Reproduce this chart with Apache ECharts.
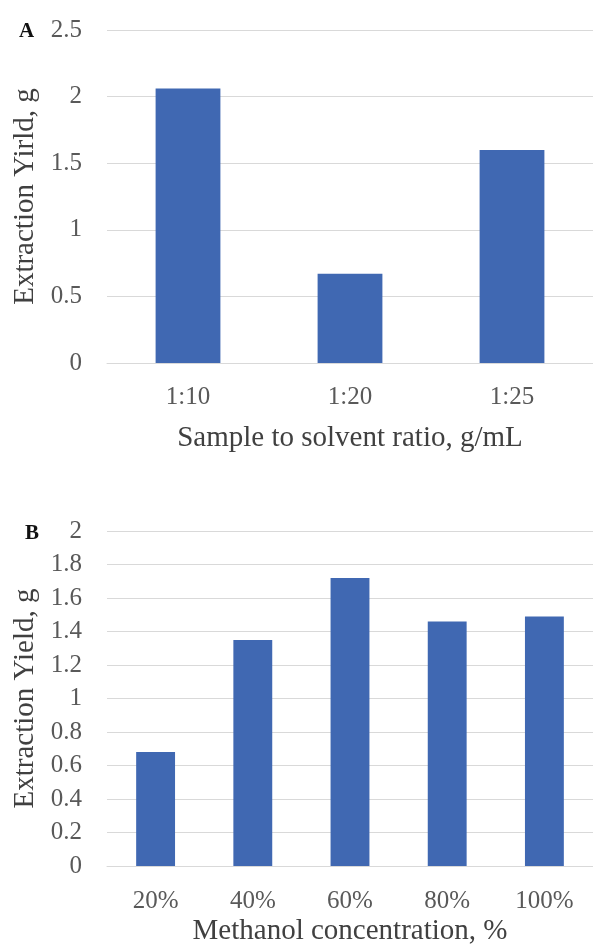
<!DOCTYPE html>
<html>
<head>
<meta charset="utf-8">
<script src="https://cdn.jsdelivr.net/npm/echarts@6/dist/echarts.min.js"></script>
<style>
  html, body { margin: 0; padding: 0; background: #fff; }
  #chart { width: 593px; height: 952px; }
</style>
</head>
<body>
<div id="chart"></div>
<script>
// panel A: sample to solvent ratio
var ratioCats = ['1:10', '1:20', '1:25'];
var ratioYield = [2.06, 0.67, 1.60];

// panel B: methanol concentration
var methCats = ['20%', '40%', '60%', '80%', '100%'];
var methYield = [0.68, 1.35, 1.72, 1.46, 1.49];

var serif = "'Liberation Serif', 'Times New Roman', serif";
var barColor = '#4068b2';
var gridColor = '#d9d9d9';
var tickColor = '#595959';
var nameColor = '#404040';

function xAxisOf(idx, cats, name, margin, gap) {
  return {
    type: 'category',
    gridIndex: idx,
    data: cats,
    name: name,
    nameLocation: 'middle',
    nameGap: gap,
    nameTextStyle: { fontFamily: serif, fontSize: 29, color: nameColor },
    axisTick: { show: false },
    axisLine: { lineStyle: { color: gridColor, width: 1 } },
    axisLabel: { fontFamily: serif, fontSize: 25, color: tickColor, margin: margin }
  };
}

function yAxisOf(idx, max, interval, name) {
  return {
    type: 'value',
    gridIndex: idx,
    min: 0,
    max: max,
    interval: interval,
    name: name,
    nameLocation: 'middle',
    nameRotate: 90,
    nameGap: 67,
    nameTextStyle: { fontFamily: serif, fontSize: 29, color: nameColor },
    axisLine: { show: false },
    axisTick: { show: false },
    splitLine: { lineStyle: { color: gridColor, width: 1 } },
    axisLabel: { fontFamily: serif, fontSize: 25, color: tickColor, margin: 25 }
  };
}

var myChart = echarts.init(document.getElementById('chart'));
myChart.setOption({
  animation: false,
  title: [
    { text: 'A', left: 14, top: 16, textStyle: { fontFamily: serif, fontSize: 21, fontWeight: 'bold', color: '#111' } },
    { text: 'B', left: 20, top: 518, textStyle: { fontFamily: serif, fontSize: 21, fontWeight: 'bold', color: '#111' } }
  ],
  grid: [
    { left: 107, top: 30, width: 486, height: 333 },
    { left: 107, top: 531, width: 486, height: 335 }
  ],
  xAxis: [
    xAxisOf(0, ratioCats, 'Sample to solvent ratio, g/mL', 22, 61),
    xAxisOf(1, methCats, 'Methanol concentration, %', 23, 51)
  ],
  yAxis: [
    yAxisOf(0, 2.5, 0.5, 'Extraction Yirld, g'),
    yAxisOf(1, 2, 0.2, 'Extraction Yield, g')
  ],
  series: [
    {
      type: 'bar',
      xAxisIndex: 0,
      yAxisIndex: 0,
      data: ratioYield,
      barWidth: '40%',
      itemStyle: { color: barColor }
    },
    {
      type: 'bar',
      xAxisIndex: 1,
      yAxisIndex: 1,
      data: methYield,
      barWidth: '40%',
      itemStyle: { color: barColor }
    }
  ]
});
</script>
</body>
</html>
